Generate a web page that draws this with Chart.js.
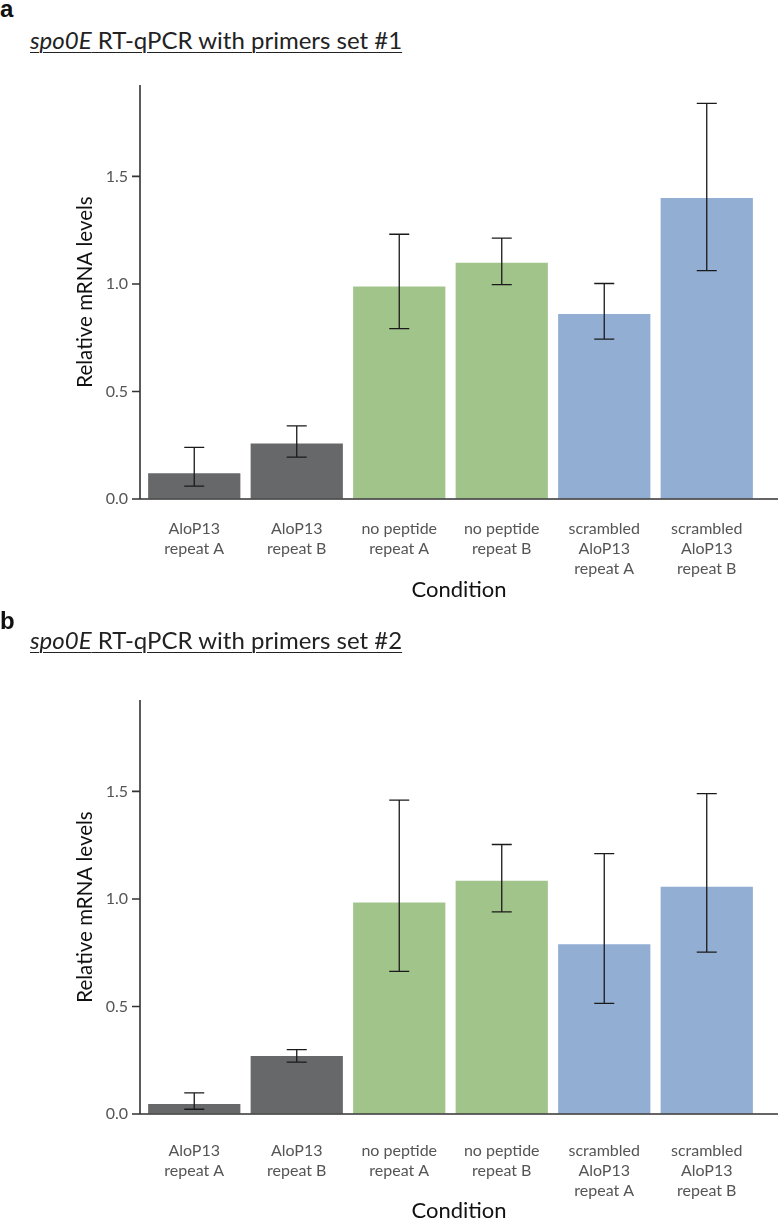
<!DOCTYPE html>
<html>
<head>
<meta charset="utf-8">
<script src="https://cdn.jsdelivr.net/npm/chart.js@4"></script>
<style>
  body { margin: 0; width: 778px; height: 1219px; background: #fff; position: relative; overflow: hidden; font-family: Lato, sans-serif; }
  .tag { position: absolute; left: 0px; line-height: 24px; font: bold 24px "Liberation Sans", Arial, sans-serif; color: #111; }
  .title { position: absolute; left: 30px; font-size: 24px; line-height: 24px; color: #222; white-space: nowrap;
           text-decoration: underline; text-decoration-thickness: 1px; text-underline-offset: 3px; }
  .box { position: absolute; left: 0; width: 778px; }
</style>
</head>
<body>
<div class="tag" style="top:-5px">a</div>
<div class="title" style="top:28px"><i>spo0E</i> RT-qPCR with primers set #1</div>
<div class="box" style="top:60px"><canvas id="chartA" width="778" height="550"></canvas></div>

<div class="tag" style="top:607px">b</div>
<div class="title" style="top:628px"><i>spo0E</i> RT-qPCR with primers set #2</div>
<div class="box" style="top:675px"><canvas id="chartB" width="778" height="544"></canvas></div>

<script>
const categories = [
  ['AloP13', 'repeat A'],
  ['AloP13', 'repeat B'],
  ['no peptide', 'repeat A'],
  ['no peptide', 'repeat B'],
  ['scrambled', 'AloP13', 'repeat A'],
  ['scrambled', 'AloP13', 'repeat B']
];
const barColors = ['#67686a', '#67686a', '#a1c48b', '#a1c48b', '#92aed3', '#92aed3'];
const yTicks = [0, 0.5, 1.0, 1.5];

// primers set #1
const set1Values = [0.12, 0.258, 0.988, 1.098, 0.86, 1.399];
const set1Low = [0.06, 0.195, 0.792, 0.997, 0.743, 1.062];
const set1High = [0.24, 0.34, 1.231, 1.213, 1.002, 1.84];

// primers set #2
const set2Values = [0.046, 0.27, 0.984, 1.084, 0.789, 1.057];
const set2Low = [0.022, 0.241, 0.663, 0.94, 0.514, 0.753];
const set2High = [0.098, 0.299, 1.459, 1.253, 1.211, 1.49];

// error bars, axis lines and the x title
const axesAndErrors = {
  id: 'axesAndErrors',
  afterDatasetsDraw(chart, args, opts) {
    const ctx = chart.ctx;
    const area = chart.chartArea;
    const y = chart.scales.y;
    const meta = chart.getDatasetMeta(0);
    const axisX = area.left - 3;
    ctx.save();

    ctx.strokeStyle = '#1a1a1a';
    ctx.lineWidth = 1.3;
    meta.data.forEach((bar, i) => {
      const top = y.getPixelForValue(opts.high[i]);
      const bot = y.getPixelForValue(opts.low[i]);
      ctx.beginPath();
      ctx.moveTo(bar.x, top); ctx.lineTo(bar.x, bot);
      ctx.moveTo(bar.x - 10, top); ctx.lineTo(bar.x + 10, top);
      ctx.moveTo(bar.x - 10, bot); ctx.lineTo(bar.x + 10, bot);
      ctx.stroke();
    });

    ctx.strokeStyle = '#333';
    ctx.lineWidth = 1.6;
    ctx.beginPath();
    ctx.moveTo(axisX, area.top); ctx.lineTo(axisX, area.bottom);
    ctx.moveTo(axisX - 8, area.bottom); ctx.lineTo(chart.width, area.bottom);
    yTicks.forEach(v => {
      const py = y.getPixelForValue(v);
      ctx.moveTo(axisX - 8, py); ctx.lineTo(axisX, py);
    });
    ctx.stroke();

    ctx.fillStyle = '#111';
    ctx.font = '22px Lato';
    ctx.textAlign = 'center';
    ctx.textBaseline = 'middle';
    ctx.fillText('Condition', (axisX + chart.width) / 2, area.bottom + opts.titleGap);
    ctx.restore();
  }
};

function makeChart(id, values, low, high, xHeight, labelPad, titleGap) {
  return new Chart(document.getElementById(id), {
    type: 'bar',
    data: {
      labels: categories,
      datasets: [{
        data: values,
        backgroundColor: barColors,
        borderWidth: 0,
        barPercentage: 0.9,
        categoryPercentage: 1.0
      }]
    },
    plugins: [axesAndErrors],
    options: {
      responsive: false,
      animation: false,
      layout: { padding: { top: 25, right: 20, left: 0, bottom: 0 } },
      plugins: {
        legend: { display: false },
        tooltip: { enabled: false },
        axesAndErrors: { low: low, high: high, titleGap: titleGap }
      },
      scales: {
        x: {
          offset: true,
          grid: { display: false, drawTicks: false },
          border: { display: false },
          ticks: {
            color: '#555',
            font: { family: 'Lato', size: 16, lineHeight: 1.25 },
            padding: labelPad,
            maxRotation: 0,
            autoSkip: false
          },
          afterFit: s => { s.height = xHeight; }
        },
        y: {
          min: 0,
          max: 1.925,
          border: { display: false },
          grid: { display: true, drawOnChartArea: false, drawTicks: true, tickLength: 8, color: 'transparent' },
          ticks: {
            stepSize: 0.5,
            includeBounds: false,
            color: '#555',
            font: { family: 'Lato', size: 16 },
            padding: 7,
            callback: v => v.toFixed(1)
          },
          title: {
            display: true,
            text: 'Relative mRNA levels',
            color: '#111',
            font: { family: 'Lato', size: 20.5 },
            padding: { top: 73, bottom: 0 }
          },
          afterFit: s => { s.width = 143; }
        }
      }
    }
  });
}

makeChart('chartA', set1Values, set1Low, set1High, 111, 20, 91);
makeChart('chartB', set2Values, set2Low, set2High, 105, 27, 97);
</script>
</body>
</html>
